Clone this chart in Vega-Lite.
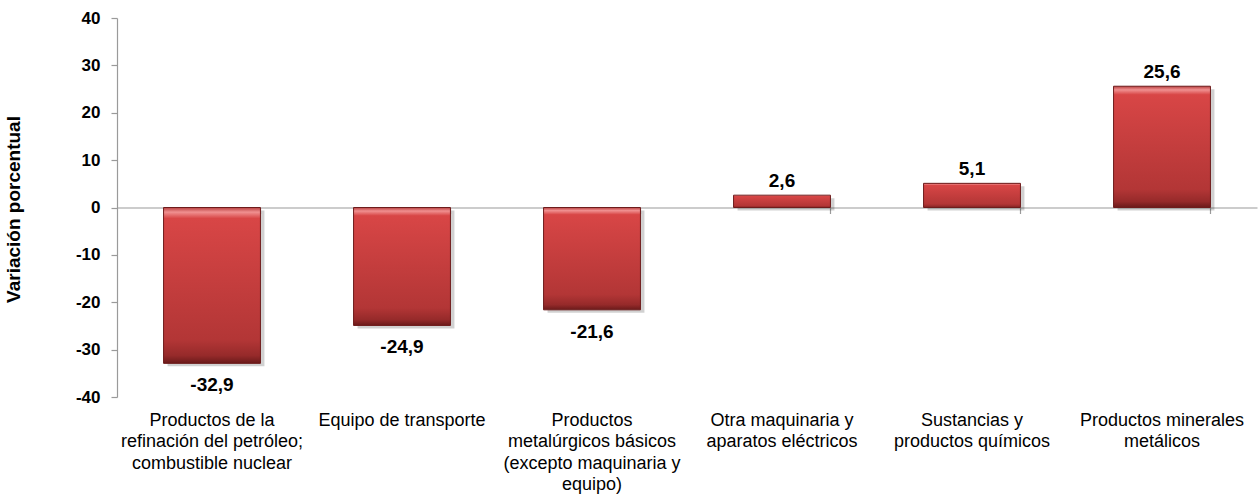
{
  "$schema": "https://vega.github.io/schema/vega-lite/v6.json",
  "width": 1140,
  "height": 379,
  "autosize": {"type": "none"},
  "padding": {"left": 117, "top": 18, "right": 2, "bottom": 98},
  "config": {
    "view": {"stroke": null},
    "font": "Liberation Sans",
    "locale": {"number": {"decimal": ",", "thousands": ".", "grouping": [3], "currency": ["", ""], "minus": "-"}}
  },
  "data": {
    "values": [
      {"categoria": "Productos de la|refinación del petróleo;|combustible nuclear", "variacion": -32.9},
      {"categoria": "Equipo de transporte", "variacion": -24.9},
      {"categoria": "Productos|metalúrgicos básicos|(excepto maquinaria y|equipo)", "variacion": -21.6},
      {"categoria": "Otra maquinaria y|aparatos eléctricos", "variacion": 2.6},
      {"categoria": "Sustancias y|productos químicos", "variacion": 5.1},
      {"categoria": "Productos minerales|metálicos", "variacion": 25.6}
    ]
  },
  "resolve": {"axis": {"x": "independent", "y": "independent"}},
  "layer": [
    {
      "mark": {"type": "bar", "color": "#000000", "opacity": 0.18, "xOffset": 4, "yOffset": 3},
      "encoding": {
        "x": {
          "field": "categoria", "type": "nominal", "sort": null,
          "scale": {"paddingInner": 0.49, "paddingOuter": 0.245},
          "axis": {
            "orient": "bottom", "offset": -189.5, "labels": false, "title": null,
            "domainColor": "#9a9a9a", "domainWidth": 1.2, "tickColor": "#9a9a9a", "tickWidth": 1.2,
            "tickSize": 6, "tickBand": "extent", "grid": false
          }
        },
        "y": {"field": "variacion", "type": "quantitative", "scale": {"domain": [-40, 40], "nice": false}, "axis": null}
      }
    },
    {
      "mark": {
        "type": "bar",
        "stroke": "#6e1c1c",
        "strokeWidth": 1,
        "fill": {
          "gradient": "linear", "x1": 0, "y1": 0, "x2": 0, "y2": 1,
          "stops": [
            {"offset": 0, "color": "#b84040"},
            {"offset": 0.03, "color": "#f09090"},
            {"offset": 0.07, "color": "#d84646"},
            {"offset": 0.85, "color": "#b33636"},
            {"offset": 0.95, "color": "#962a2a"},
            {"offset": 1, "color": "#6a1a1a"}
          ]
        }
      },
      "encoding": {
        "x": {
          "field": "categoria", "type": "nominal", "sort": null,
          "axis": {
            "orient": "bottom", "title": null, "domain": false, "ticks": false,
            "labelAngle": 0, "labelFontSize": 18, "labelColor": "#000000",
            "labelPadding": 14, "labelLimit": 0, "labelLineHeight": 21.5,
            "labelBaseline": "top",
            "labelExpr": "split(datum.label, '|')"
          }
        },
        "y": {
          "field": "variacion", "type": "quantitative",
          "axis": {
            "values": [-40, -30, -20, -10, 0, 10, 20, 30, 40],
            "grid": false,
            "domainColor": "#9a9a9a", "domainWidth": 1.2,
            "tickColor": "#9a9a9a", "tickSize": 6, "tickWidth": 1.2,
            "labelFontSize": 17, "labelFontWeight": "bold", "labelColor": "#000000", "labelPadding": 11,
            "title": "Variación porcentual",
            "titleFontSize": 19, "titleFontWeight": "bold", "titleColor": "#000000",
            "titleAngle": -90, "titleAlign": "center", "titleBaseline": "bottom",
            "titleX": -94, "titleY": 191
          }
        }
      }
    },
    {
      "transform": [{"filter": "datum.variacion >= 0"}],
      "mark": {"type": "text", "fontSize": 19, "fontWeight": "bold", "color": "#000000", "baseline": "alphabetic", "dy": -8},
      "encoding": {
        "x": {"field": "categoria", "type": "nominal", "sort": null, "axis": null},
        "y": {"field": "variacion", "type": "quantitative", "axis": null},
        "text": {"field": "variacion", "type": "quantitative", "format": ".1f"}
      }
    },
    {
      "transform": [{"filter": "datum.variacion < 0"}],
      "mark": {"type": "text", "fontSize": 19, "fontWeight": "bold", "color": "#000000", "baseline": "top", "dy": 13},
      "encoding": {
        "x": {"field": "categoria", "type": "nominal", "sort": null, "axis": null},
        "y": {"field": "variacion", "type": "quantitative", "axis": null},
        "text": {"field": "variacion", "type": "quantitative", "format": ".1f"}
      }
    }
  ]
}
